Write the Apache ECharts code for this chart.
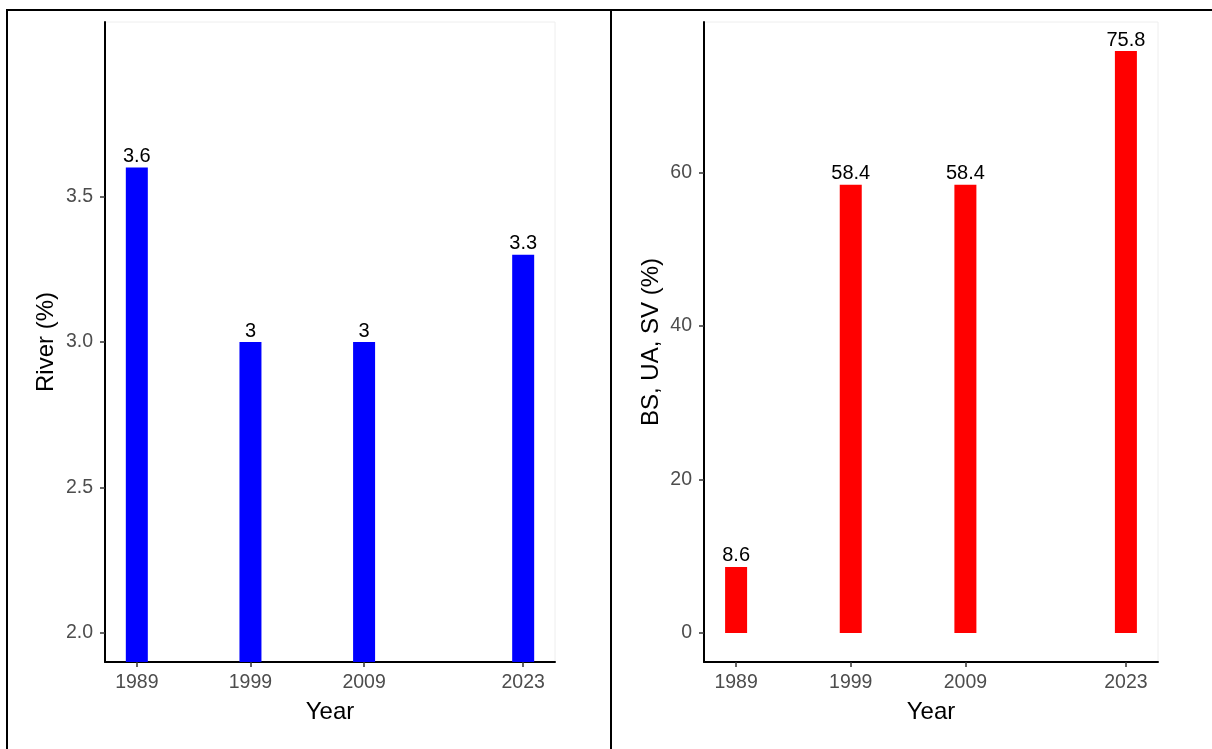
<!DOCTYPE html>
<html><head><meta charset="utf-8">
<script src="https://cdn.jsdelivr.net/npm/echarts@6/dist/echarts.min.js"></script>
<style>html,body{margin:0;padding:0;background:#fff}#c{width:1212px;height:749px}</style>
</head><body><div id="c"></div>
<script>
const years = [1989, 1999, 2009, 2023];
const riverValues = [3.6, 3, 3, 3.3];
const bsUaSvValues = [8.6, 58.4, 58.4, 75.8];
const riverTicks = [2.0, 2.5, 3.0, 3.5];
const bsTicks = [0, 20, 40, 60];
const xTicks = [1989, 1999, 2009, 2023];

const FONT = 'Liberation Sans';
const chart = echarts.init(document.getElementById('c'));
function xAxisCfg(gi){
  return {
    type:'value', gridIndex:gi, min:1986.2, max:2025.8,
    name:'Year', nameLocation:'middle', nameGap:38,
    nameTextStyle:{fontFamily:FONT,fontSize:24,color:'#000'},
    axisLine:{show:true,onZero:false,lineStyle:{color:'#000',width:2}},
    axisTick:{show:true,length:5,customValues:xTicks,lineStyle:{color:'#333',width:1.5}},
    axisLabel:{customValues:xTicks,fontFamily:FONT,fontSize:19.5,color:'#4d4d4d',margin:11,formatter:v=>String(v)},
    splitLine:{show:false}
  };
}
function yAxisCfg(gi,name,min,max,ticks,fmt,gap){
  return {
    type:'value', gridIndex:gi, min:min, max:max,
    name:name, nameLocation:'middle', nameGap:gap,
    nameTextStyle:{fontFamily:FONT,fontSize:24,color:'#000'},
    axisLine:{show:true,onZero:false,lineStyle:{color:'#000',width:2}},
    axisTick:{show:true,length:5,customValues:ticks,lineStyle:{color:'#333',width:1.5}},
    axisLabel:{customValues:ticks,fontFamily:FONT,fontSize:19.5,color:'#4d4d4d',margin:12,formatter:fmt},
    splitLine:{show:false}
  };
}
const lbl = {show:true,position:'top',distance:1,fontFamily:FONT,fontSize:20,color:'#000',formatter:p=>String(p.value[1])};
chart.setOption({
  animation:false,
  grid:[
    {left:105,top:22,width:450,height:640,show:true,borderColor:'#eeeeee',borderWidth:1,backgroundColor:'#fff'},
    {left:704,top:22,width:454,height:640,show:true,borderColor:'#eeeeee',borderWidth:1,backgroundColor:'#fff'}
  ],
  xAxis:[xAxisCfg(0),xAxisCfg(1)],
  yAxis:[
    yAxisCfg(0,'River (%)',1.9,4.1,riverTicks,v=>v.toFixed(1),47),
    yAxisCfg(1,'BS, UA, SV (%)',-3.79,79.59,bsTicks,v=>String(v),41)
  ],
  series:[
    {type:'bar',xAxisIndex:0,yAxisIndex:0,barWidth:22,clip:true,itemStyle:{color:'#0000ff'},label:lbl,
     data:years.map((y,i)=>[y,riverValues[i]])},
    {type:'bar',xAxisIndex:1,yAxisIndex:1,barWidth:22,clip:true,itemStyle:{color:'#ff0000'},label:lbl,
     data:years.map((y,i)=>[y,bsUaSvValues[i]])}
  ],
  graphic:[
    {type:'line',shape:{x1:6,y1:10,x2:1212,y2:10},style:{stroke:'#000',lineWidth:2}},
    {type:'line',shape:{x1:7,y1:10,x2:7,y2:749},style:{stroke:'#000',lineWidth:2}},
    {type:'line',shape:{x1:611,y1:10,x2:611,y2:749},style:{stroke:'#000',lineWidth:2}}
  ]
});
</script></body></html>
